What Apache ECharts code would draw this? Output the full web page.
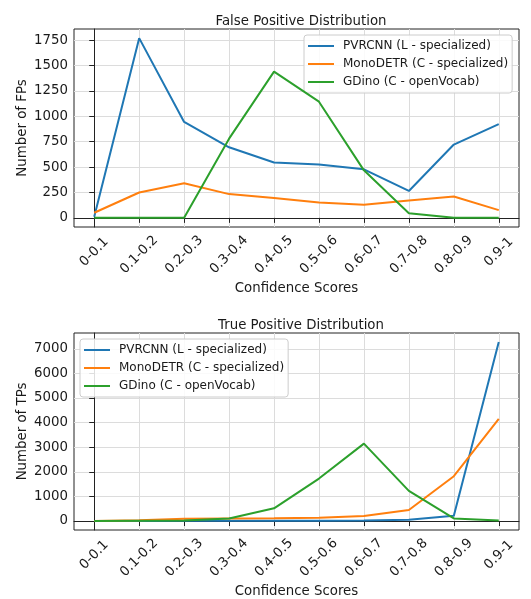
<!DOCTYPE html>
<html>
<head>
<meta charset="utf-8">
<script src="https://cdn.jsdelivr.net/npm/echarts@6/dist/echarts.min.js"></script>
<style>
  html, body { margin: 0; padding: 0; background: #fff; }
  #chart { width: 531px; height: 599px; }
</style>
</head>
<body>
<div id="chart"></div>
<script>
// confidence bins
const bins = ['0-0.1', '0.1-0.2', '0.2-0.3', '0.3-0.4', '0.4-0.5', '0.5-0.6', '0.6-0.7', '0.7-0.8', '0.8-0.9', '0.9-1']
const binIdx = [0, 1, 2, 3, 4, 5, 6, 7, 8, 9]

// false positives
const fpPvrcnn = [10, 1770, 945, 695, 545, 525, 478, 265, 722, 923]
const fpMonodetr = [50, 250, 340, 234, 195, 152, 128, 171, 211, 76]
const fpGdino = [0, 0, 0, 780, 1440, 1144, 468, 46, 0, 0]

// true positives
const tpPvrcnn = [0, 5, 10, 15, 15, 15, 20, 55, 215, 7270]
const tpMonodetr = [0, 30, 90, 100, 110, 135, 200, 445, 1820, 4155]
const tpGdino = [0, 10, 20, 105, 515, 1725, 3145, 1225, 105, 25]

const fpTicks = [0, 250, 500, 750, 1000, 1250, 1500, 1750]
const tpTicks = [0, 1000, 2000, 3000, 4000, 5000, 6000, 7000]

const names = ['PVRCNN (L - specialized)', 'MonoDETR (C - specialized)', 'GDino (C - openVocab)']
const colors = ['#1f77b4', '#ff7f0e', '#2ca02c']

const FONT = 'DejaVu Sans'
const FS = 13.33
const txt = '#1a1a1a'
const gridColor = '#dcdcdc'

const chart = echarts.init(document.getElementById('chart'), null, { renderer: 'canvas' })

const pairs = arr => arr.map((v, i) => [binIdx[i], v])

const makeX = (gridIndex) => ({
  type: 'value', gridIndex, min: -0.45, max: 9.45,
  name: 'Confidence Scores', nameLocation: 'middle', nameGap: 55,
  nameTextStyle: { color: txt, fontFamily: FONT, fontSize: FS },
  axisLine: { show: true, lineStyle: { color: '#222', width: 1 } },
  axisTick: { show: true, length: 5, lineStyle: { color: '#222' }, customValues: binIdx },
  axisLabel: {
    customValues: binIdx, rotate: 45, align: 'center', verticalAlign: 'middle', margin: 25,
    color: txt, fontFamily: FONT, fontSize: FS,
    // longer labels sit a bit lower, as matplotlib centres the rotated box
    formatter: v => {
      const s = bins[Math.round(v)]
      return s.length > 5 ? '{l|' + s + '}' : s
    },
    rich: { l: { fontFamily: FONT, fontSize: FS, color: txt, padding: [4, 4, 0, 0] } }
  },
  splitLine: { show: true, lineStyle: { color: gridColor, width: 1 } }
})

const makeY = (gridIndex, min, max, ticks, label) => ({
  type: 'value', gridIndex, min, max,
  name: label, nameLocation: 'middle', nameGap: 45, nameMoveOverlap: false,
  nameTextStyle: { color: txt, fontFamily: FONT, fontSize: FS },
  axisLine: { show: true, lineStyle: { color: '#222', width: 1 } },
  axisTick: { show: true, length: 5, lineStyle: { color: '#222' }, customValues: ticks },
  axisLabel: { customValues: ticks, color: txt, fontFamily: FONT, fontSize: FS, margin: 6,
    formatter: v => String(v) },
  splitLine: { show: true, lineStyle: { color: gridColor, width: 1 } }
})

const makeSeries = (data, i, gi) => ({
  name: names[i], type: 'line', xAxisIndex: gi, yAxisIndex: gi,
  data: pairs(data), showSymbol: false, symbol: 'none',
  lineStyle: { color: colors[i], width: 2 }, itemStyle: { color: colors[i] },
  z: 2 + i, animation: false
})

const legendBase = {
  orient: 'vertical', icon: 'rect', itemWidth: 26, itemHeight: 2, itemGap: 4,
  padding: [4, 4, 4, 4], borderColor: '#cccccc', borderWidth: 1, borderRadius: 3,
  backgroundColor: 'rgba(255,255,255,0.85)', selector: false,
  textStyle: { color: txt, fontFamily: FONT, fontSize: 12, lineHeight: 14, padding: [0, 0, 0, 4] }
}

chart.setOption({
  animation: false,
  title: [
    { text: 'False Positive Distribution', left: 296, top: 10, textAlign: 'center',
      textStyle: { color: txt, fontFamily: FONT, fontSize: FS, fontWeight: 'normal' } },
    { text: 'True Positive Distribution', left: 296, top: 314, textAlign: 'center',
      textStyle: { color: txt, fontFamily: FONT, fontSize: FS, fontWeight: 'normal' } }
  ],
  grid: [
    { left: 74, top: 29, width: 445, height: 198, show: true, borderColor: '#222', borderWidth: 1 },
    { left: 74, top: 333, width: 445, height: 197, show: true, borderColor: '#222', borderWidth: 1 }
  ],
  xAxis: [makeX(0), makeX(1)],
  yAxis: [
    makeY(0, -90, 1860, fpTicks, 'Number of FPs'),
    makeY(1, -365, 7640, tpTicks, 'Number of TPs')
  ],
  legend: [
    Object.assign({}, legendBase, { left: 304, top: 35, data: names }),
    Object.assign({}, legendBase, { left: 80, top: 339, data: names })
  ],
  series: [
    makeSeries(fpPvrcnn, 0, 0),
    makeSeries(fpMonodetr, 1, 0),
    makeSeries(fpGdino, 2, 0),
    makeSeries(tpPvrcnn, 0, 1),
    makeSeries(tpMonodetr, 1, 1),
    makeSeries(tpGdino, 2, 1)
  ]
})
</script>
</body>
</html>
